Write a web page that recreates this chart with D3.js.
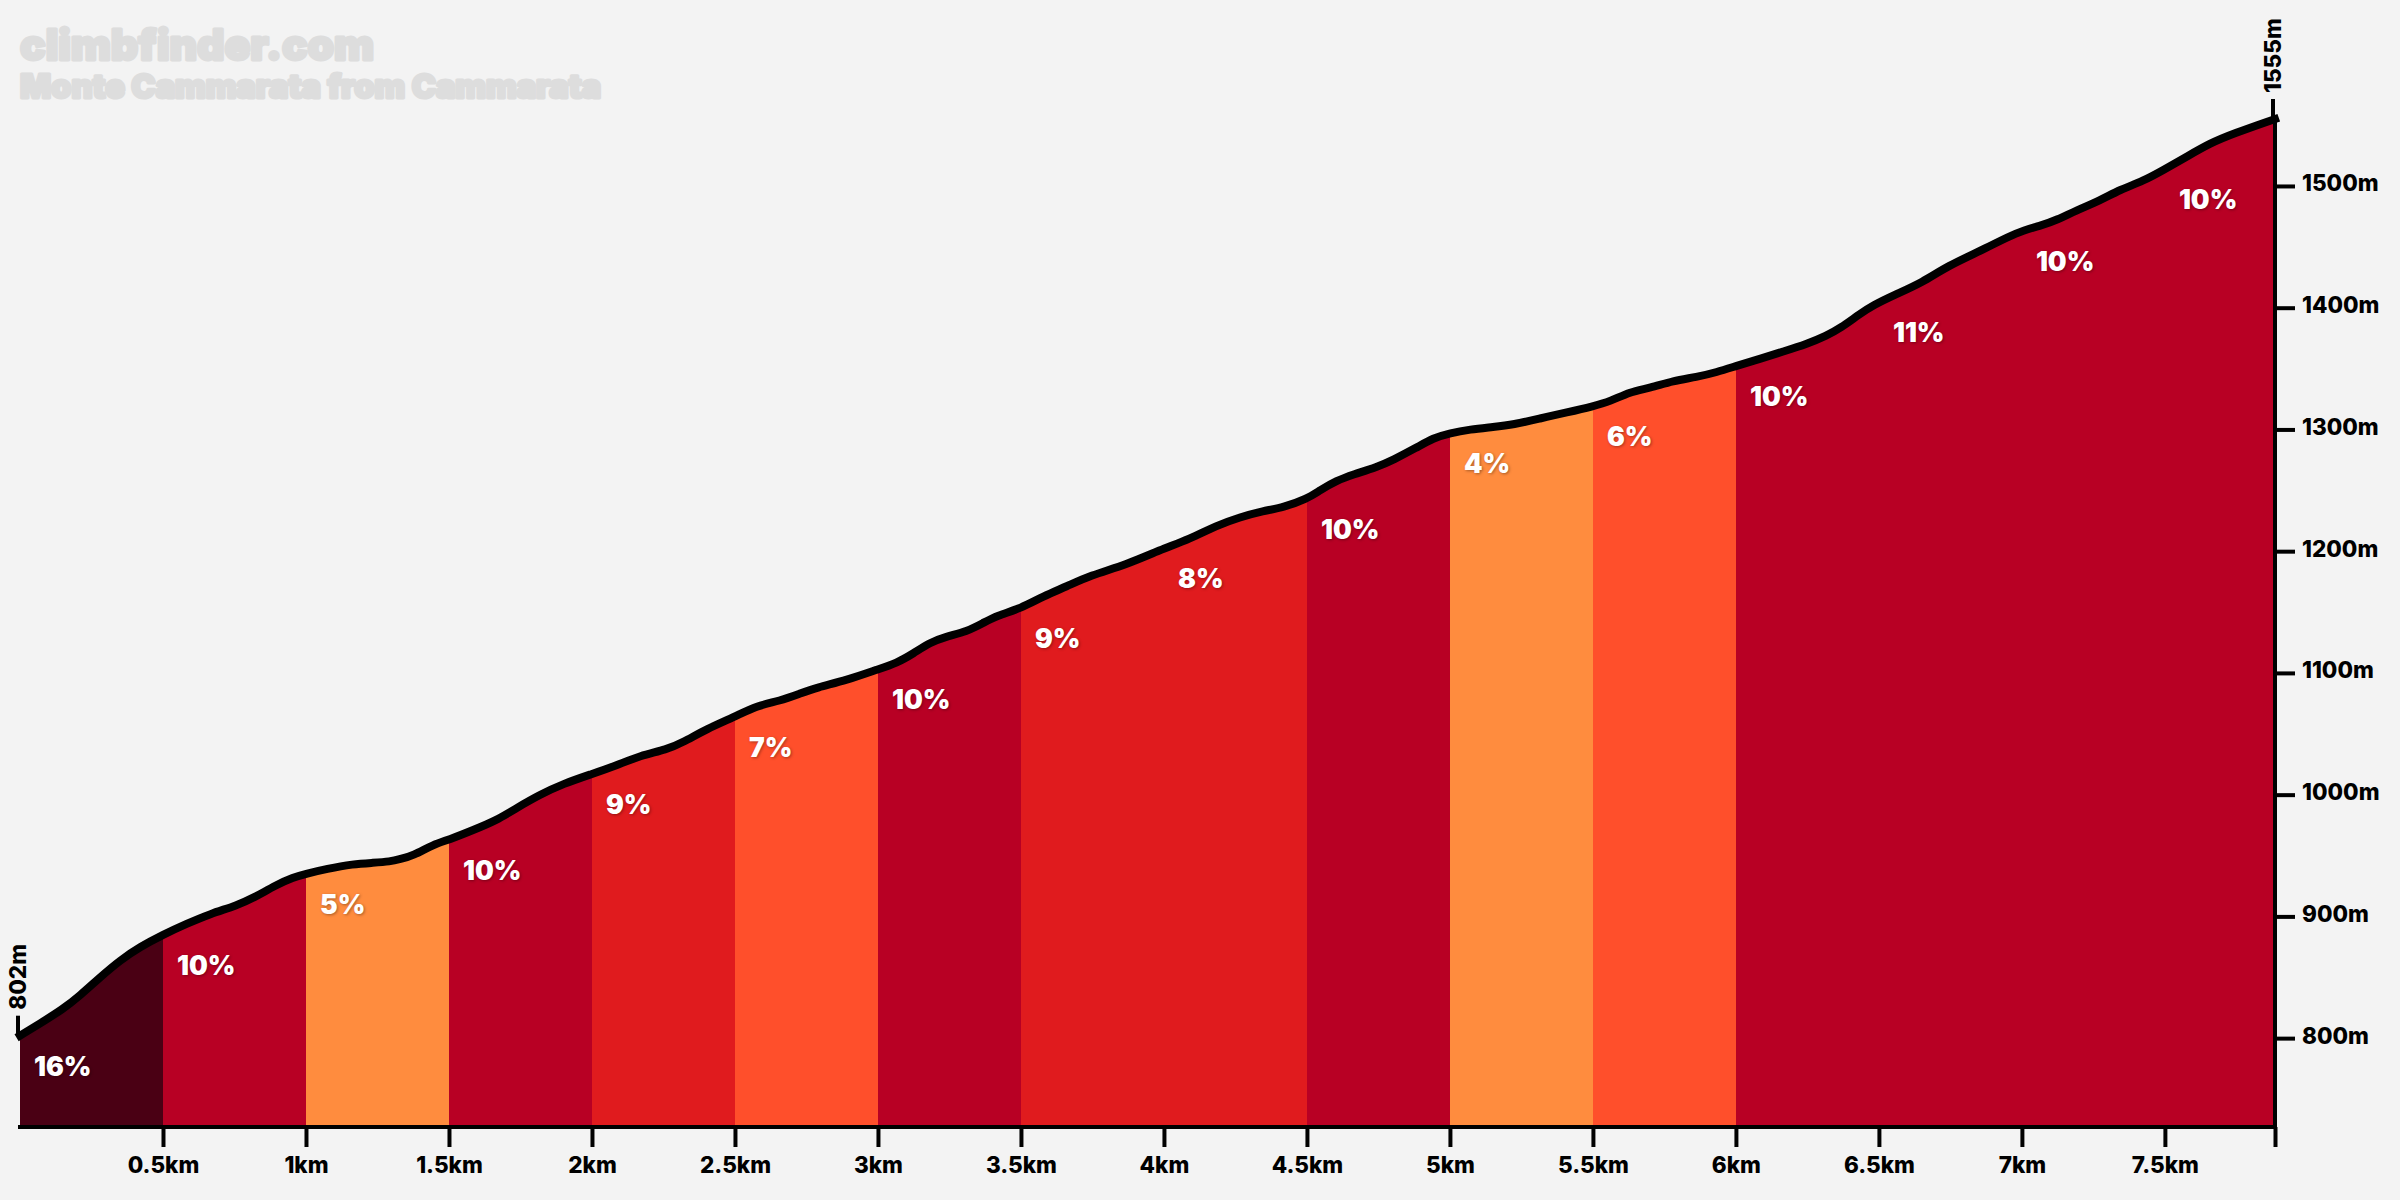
<!DOCTYPE html>
<html>
<head>
<meta charset="utf-8">
<script src="https://cdn.jsdelivr.net/npm/d3@7"></script>
<style>
    html, body { margin: 0; padding: 0; background: #f3f3f3; }
    svg { display: block; }
    text { font-family: Inter, "DejaVu Sans", sans-serif; font-weight: 800; }
    .grade { font-weight: 900; text-shadow: 1px 1px 3px rgba(0, 0, 0, 0.35); }
</style>
</head>
<body>
<svg id="chart" width="2400" height="1200"></svg>
<script>
// Profile: distance in km, elevation in m
const distances = [0, 0.07, 0.151, 0.21, 0.28, 0.35, 0.42, 0.5, 0.583, 0.664, 0.758, 0.815, 0.897, 0.955, 1, 1.072, 1.165, 1.235, 1.294, 1.329,
    1.375, 1.445, 1.5, 1.585, 1.667, 1.736, 1.818, 1.9, 2, 2.086, 2.168, 2.261, 2.319, 2.401, 2.5, 2.576, 2.657,
    2.727, 2.786, 2.89, 3, 3.065, 3.124, 3.182, 3.24, 3.31, 3.368, 3.415, 3.5, 3.578, 3.66, 3.741, 3.87, 3.986,
    4.09, 4.184, 4.266, 4.347, 4.417, 4.5, 4.545, 4.604, 4.662, 4.744, 4.802, 4.883, 4.942, 5, 5.07, 5.152, 5.222, 5.315,
    5.409, 5.5, 5.56, 5.63, 5.7, 5.78, 5.863, 5.933, 6, 6.084, 6.165, 6.247, 6.317, 6.364, 6.434, 6.48, 6.55, 6.655,
    6.737, 6.877, 6.981, 7.074, 7.121, 7.191, 7.273, 7.343, 7.424, 7.494, 7.576, 7.657, 7.739, 7.885];
const elevations = [802, 812, 824, 835, 850, 864, 875, 885, 894, 902, 909, 915, 926, 932, 935, 939, 943, 944, 945, 947,
    950, 959, 963, 971, 979, 989, 1000, 1009, 1017, 1024, 1032, 1037, 1043, 1054, 1064, 1073, 1077,
    1083, 1088, 1094, 1103, 1108, 1116, 1125, 1130, 1134, 1141, 1147, 1153, 1163, 1171, 1180, 1189, 1201,
    1210, 1221, 1228, 1233, 1236, 1243, 1250, 1258, 1263, 1269, 1275, 1285, 1293, 1297, 1300, 1302, 1304, 1309,
    1314, 1319, 1323, 1331, 1334, 1340, 1343, 1347, 1352, 1358, 1364, 1370, 1377, 1383, 1395, 1402, 1410, 1421,
    1434, 1449, 1462, 1468, 1472, 1480, 1488, 1497, 1504, 1513, 1524, 1535, 1543, 1555];

// One gradient per segment
const segmentStarts = [0, 0.5, 1, 1.5, 2, 2.5, 3, 3.5, 4, 4.5, 5, 5.5, 6, 6.5, 7, 7.5];
const segmentGrades = [16, 10, 5, 10, 9, 7, 10, 9, 8, 10, 4, 6, 10, 11, 10, 10];

const xTicks = [0.5, 1, 1.5, 2, 2.5, 3, 3.5, 4, 4.5, 5, 5.5, 6, 6.5, 7, 7.5];
const yTicks = [800, 900, 1000, 1100, 1200, 1300, 1400, 1500];
const titleLines = ['climbfinder.com', 'Monte Cammarata from Cammarata'];

const totalKm = 7.885;
const svg = d3.select('#chart');
const profile = distances.map((d, i) => ({ km: d, ele: elevations[i] }));

const x = d3.scaleLinear().domain([0, totalKm]).range([20, 2275]);
const y = d3.scaleLinear().domain([727, 1555]).range([1127, 119]);
const eleAt = d3.scaleLinear().domain(distances).range(elevations);

const gradeColor = d3.scaleThreshold()
    .domain([6, 8, 10, 15])
    .range(['#ff8c3e', '#ff4f2b', '#e01b1e', '#b80024', '#4a0014']);

const area = d3.area()
    .x(d => x(d.km))
    .y0(y.range()[0])
    .y1(d => y(d.ele))
    .curve(d3.curveBasis);
const line = d3.line()
    .x(d => x(d.km))
    .y(d => y(d.ele))
    .curve(d3.curveBasis);

svg.append('clipPath').attr('id', 'under-profile')
    .append('path').attr('d', area(profile));

// Coloured bands, cut to the profile shape
svg.append('g').attr('clip-path', 'url(#under-profile)')
    .selectAll('rect')
    .data(segmentStarts)
    .join('rect')
    .attr('x', d => x(d))
    .attr('width', (d, i) => x(i + 1 < segmentStarts.length ? segmentStarts[i + 1] : totalKm) - x(d))
    .attr('y', y.range()[1] - 10)
    .attr('height', y.range()[0] - y.range()[1] + 10)
    .attr('shape-rendering', 'crispEdges')
    .attr('fill', (d, i) => gradeColor(segmentGrades[i]));

// Axes
const xAxis = d3.axisBottom(x)
    .tickValues([...xTicks, totalKm])
    .tickSize(20)
    .tickPadding(10)
    .tickFormat(d => d === totalKm ? '' : d + 'km');
const yAxis = d3.axisRight(y)
    .tickValues(yTicks)
    .tickSize(20)
    .tickPadding(7)
    .tickFormat(d => d + 'm');

const gx = svg.append('g').attr('transform', `translate(0,${y.range()[0]})`).call(xAxis);
const gy = svg.append('g').attr('transform', `translate(${x.range()[1]},0)`).call(yAxis);
gx.select('.domain').attr('stroke', '#000').attr('stroke-width', 4).attr('d', `M18,0H${x.range()[1] + 2}`);
gy.select('.domain').attr('stroke', '#000').attr('stroke-width', 4)
    .attr('d', `M0,${y(1555)}V${y.range()[0]}`);
[gx, gy].forEach(g => {
    g.selectAll('.tick line').attr('stroke', '#000').attr('stroke-width', 4);
    g.selectAll('.tick text').attr('fill', '#000').attr('font-size', 22.5)
        .style('font-family', 'Inter, sans-serif').style('font-weight', 800);
});
gy.selectAll('.tick text').attr('dy', '0.22em');

// Start and summit markers
const ends = [
    { km: 0, ele: elevations[0], label: '802m' },
    { km: totalKm, ele: elevations[elevations.length - 1], label: '1555m' }
];
svg.append('g').selectAll('line').data(ends).join('line')
    .attr('x1', d => x(d.km) - 2).attr('x2', d => x(d.km) - 2)
    .attr('y1', d => y(d.ele)).attr('y2', d => y(d.ele) - 20)
    .attr('stroke', '#000').attr('stroke-width', 4);
svg.append('g').selectAll('text').data(ends).join('text')
    .attr('transform', d => `translate(${x(d.km) + 6},${y(d.ele) - 26}) rotate(-90)`)
    .attr('font-size', 22.5)
    .attr('fill', '#000')
    .text(d => d.label);

// Profile outline
svg.append('path')
    .attr('d', line(profile))
    .attr('fill', 'none')
    .attr('stroke', '#000')
    .attr('stroke-width', 8)
    .attr('stroke-linecap', 'square')
    .attr('stroke-linejoin', 'round');

// Grade labels hang from the profile at the start of each segment
svg.append('g').selectAll('text').data(segmentStarts).join('text')
    .attr('class', 'grade')
    .attr('x', d => x(d) + 14)
    .attr('y', d => y(eleAt(d)) + 40)
    .attr('font-size', 26.5)
    .attr('fill', '#fff')
    .text((d, i) => segmentGrades[i] + '%');

// Watermark title
svg.append('g').selectAll('text').data(titleLines).join('text')
    .attr('x', 20)
    .attr('y', (d, i) => i === 0 ? 60 : 98)
    .attr('font-size', (d, i) => i === 0 ? 42.5 : 32.5)
    .attr('fill', '#dddddd')
    .attr('stroke', '#dddddd')
    .attr('stroke-width', 3)
    .attr('stroke-linejoin', 'round')
    .style('font-weight', 900)
    .text(d => d);
</script>
</body>
</html>
